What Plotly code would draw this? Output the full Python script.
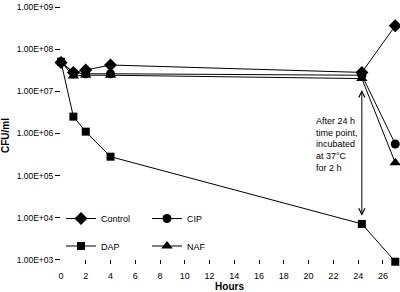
import plotly.graph_objects as go

hours = [0, 1, 2, 4, 24.3, 27]
control = [4.8e7, 2.8e7, 3.2e7, 4.2e7, 2.8e7, 3.6e8]
cip = [5.0e7, 2.8e7, 2.6e7, 2.6e7, 2.4e7, 5.6e5]
dap = [5.0e7, 2.5e6, 1.1e6, 2.8e5, 7.1e3, 9.0e2]
naf = [5.0e7, 2.3e7, 2.4e7, 2.4e7, 2.0e7, 2.0e5]

ytick_vals = [1e3, 1e4, 1e5, 1e6, 1e7, 1e8, 1e9]
ytick_text = ["1.00E+03", "1.00E+04", "1.00E+05", "1.00E+06", "1.00E+07", "1.00E+08", "1.00E+09"]
xtick_vals = list(range(0, 27, 2))

FONT = "Liberation Sans, Arial, sans-serif"

fig = go.Figure()
series = [
    ("Control", control, "diamond", 10, "legend"),
    ("CIP", cip, "circle", 9, "legend"),
    ("DAP", dap, "square", 8, "legend2"),
    ("NAF", naf, "triangle-up", 10, "legend2"),
]
for name, vals, sym, size, lg in series:
    fig.add_trace(go.Scatter(
        x=hours, y=vals, name=name, mode="lines+markers",
        line=dict(color="black", width=1),
        marker=dict(symbol=sym, size=size, color="black"),
        cliponaxis=False, legend=lg,
    ))

fig.update_layout(
    width=400, height=292,
    margin=dict(l=61, r=2, t=4, b=27),
    paper_bgcolor="white", plot_bgcolor="white",
    font=dict(family=FONT, size=9, color="black"),
    legend=dict(orientation="h", x=0.0, y=0.177, xanchor="left", yanchor="middle",
                entrywidth=41, entrywidthmode="pixels", bgcolor="rgba(0,0,0,0)",
                font=dict(size=9), itemsizing="trace"),
    legend2=dict(orientation="h", x=0.0, y=0.070, xanchor="left", yanchor="middle",
                 entrywidth=41, entrywidthmode="pixels", bgcolor="rgba(0,0,0,0)",
                 font=dict(size=9), itemsizing="trace"),
    showlegend=True,
)
fig.update_xaxes(
    range=[0, 27.22], tickvals=xtick_vals, ticks="inside", ticklen=4, tickcolor="black",
    showline=False, showgrid=False, zeroline=False, ticklabelstandoff=5,
    tickfont=dict(size=9, family=FONT),
    title=dict(text="<b>Hours</b>", font=dict(size=10, family=FONT), standoff=2),
)
fig.update_yaxes(
    type="log", range=[2.9, 9], tickvals=ytick_vals, ticktext=ytick_text,
    ticks="outside", ticklen=5, tickcolor="black", ticklabeloverflow="allow",
    showline=False, showgrid=False, zeroline=False,
    tickfont=dict(size=8.5, family=FONT),
    title=dict(text="<b>CFU/ml</b>", font=dict(size=10, family=FONT), standoff=6),
)
# axis lines (x axis sits at 1e3, y axis at 0 h)
fig.add_shape(type="line", xref="x", yref="y", x0=0, x1=26.2, y0=3, y1=3,
              line=dict(color="black", width=1))
fig.add_shape(type="line", xref="x", yref="y", x0=0, x1=0, y0=3, y1=9,
              line=dict(color="black", width=1))

fig.add_annotation(x=24.3, y=4.045, ax=24.3, ay=7.066, xref="x", yref="y",
                   axref="x", ayref="y", text="", showarrow=True,
                   arrowhead=5, startarrowhead=5, arrowside="end+start",
                   arrowsize=1.2, arrowwidth=1, arrowcolor="black", standoff=0, startstandoff=0)
fig.add_annotation(x=20.4, y=5.73, xref="x", yref="y", xanchor="left", yanchor="middle",
                   text="After 24 h<br>time point,<br>incubated<br>at 37°C<br>for 2 h",
                   showarrow=False, align="left", font=dict(size=9, family=FONT))

fig.write_html("out.html", config={"displayModeBar": False},
               post_script="document.body.style.margin='0px';")
